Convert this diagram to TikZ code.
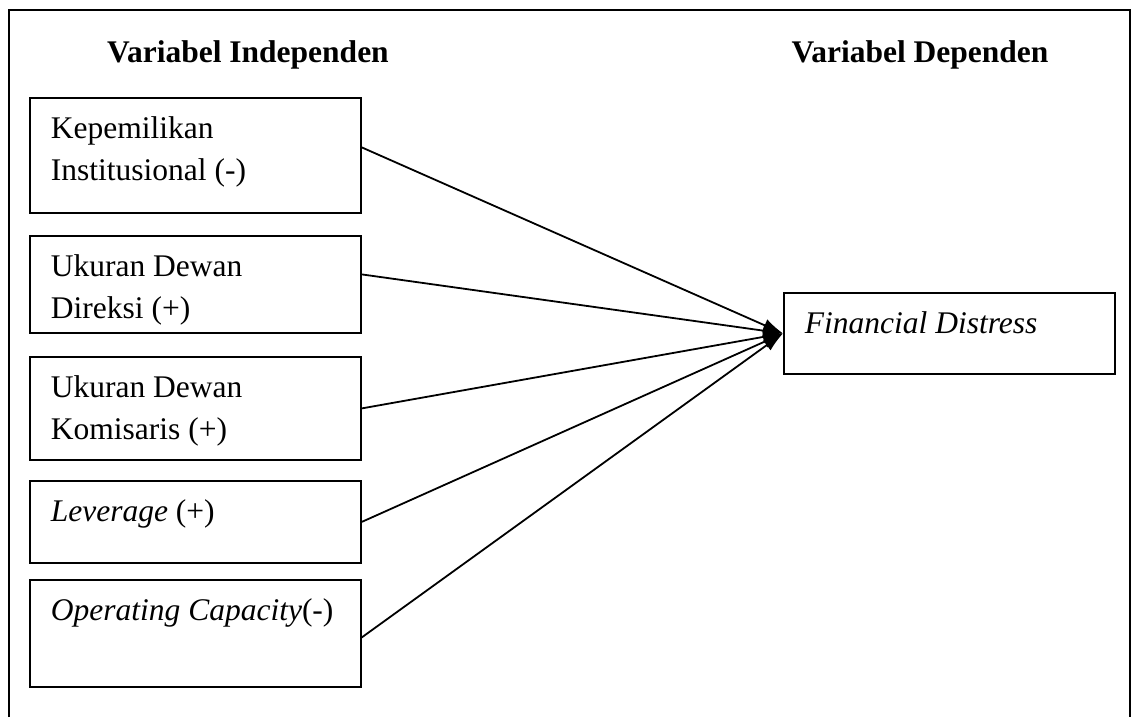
\documentclass[tikz,border=0pt]{standalone}
\usepackage{fontspec}
\setmainfont{Liberation Serif}
\usepackage{tikz}
\usetikzlibrary{arrows.meta}
\tikzstyle{varbox} = [rectangle, draw, line width=1.8pt, anchor=north west, inner xsep=21pt, inner ysep=11pt, align=left]
\tikzstyle{vartitle} = [anchor=base, font=\fontsize{31.5}{42}\selectfont\bfseries]
\newcommand{\vartext}[2]{\parbox[t][#1][t]{289pt}{\strut #2}}

\begin{document}
\begin{tikzpicture}[font=\fontsize{31.5}{42}\selectfont, line width=1.8pt]
  \useasboundingbox (0pt, 0pt) rectangle (1131pt, -717pt);
  % frame
  \draw (9pt, -717pt) -- (9pt, -10pt) -- (1130pt, -10pt) -- (1130pt, -717pt);
  % titles
  \draw (248pt, -63pt)node[vartitle](ti){Variabel Independen};
  \draw (920pt, -63pt)node[vartitle](td){Variabel Dependen};
  % independent variables
  \draw (29pt, -97pt)node[varbox](b1){\vartext{93pt}{Kepemilikan\\Institusional (-)}};
  \draw (29pt, -235pt)node[varbox](b2){\vartext{75pt}{Ukuran Dewan\\Direksi (+)}};
  \draw (29pt, -356pt)node[varbox](b3){\vartext{81pt}{Ukuran Dewan\\Komisaris (+)}};
  \draw (29pt, -480pt)node[varbox](b4){\vartext{60pt}{\textit{Leverage} (+)}};
  \draw (29pt, -579pt)node[varbox](b5){\vartext{85pt}{\textit{Operating Capacity}(-)}};
  % dependent variable
  \draw (783pt, -292pt)node[varbox](fd){\vartext{59pt}{\textit{Financial Distress}}};
  % connectors
  \path[-{Latex[length=20pt,width=13pt]}] ([yshift=8pt]b1.east) edge (fd.west);
  \path[-{Latex[length=20pt,width=13pt]}] ([yshift=10pt]b2.east) edge (fd.west);
  \path[-{Latex[length=20pt,width=13pt]}] (b3.east) edge (fd.west);
  \path[-{Latex[length=20pt,width=13pt]}] (b4.east) edge (fd.west);
  \path[-{Latex[length=20pt,width=13pt]}] ([yshift=-4pt]b5.east) edge (fd.west);
\end{tikzpicture}
\end{document}
